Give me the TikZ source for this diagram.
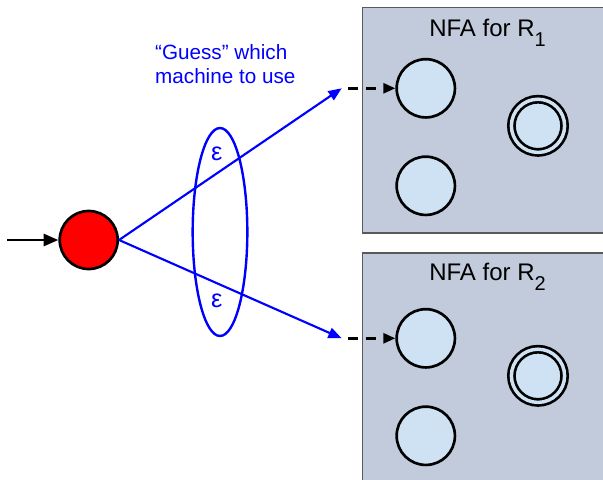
\documentclass[tikz,border=0pt]{standalone}
\usepackage{fontspec}
\setmainfont{Liberation Sans}
\usetikzlibrary{arrows.meta,positioning,shapes.geometric}
\definecolor{NfaPanel}{RGB}{193,203,219}
\definecolor{NfaState}{RGB}{207,226,243}
\definecolor{GuessBlue}{RGB}{0,0,255}
\newcommand{\lowsub}[1]{\raisebox{-7.5pt}{\fontsize{15}{15}\selectfont #1}}

\begin{document}
\begin{tikzpicture}[
    x=0.75pt, y=-0.75pt,
    panel/.style={draw=black!65, fill=NfaPanel, line width=0.9pt},
    state/.style={circle, draw, line width=2pt, fill=NfaState,
                  minimum size=43.7pt, inner sep=0pt},
    accept/.style={state, minimum size=39.9pt, double=NfaState,
                   double distance=2.6pt},
    start/.style={state, fill=red, minimum size=43.5pt},
    title/.style={font=\fontsize{18}{20}\selectfont, anchor=base west},
    guess/.style={text=GuessBlue, font=\fontsize{15.5}{18}\selectfont},
    eps/.style={text=GuessBlue, font=\fontsize{19}{20}\selectfont},
    arr/.style={-{Triangle[length=11pt, width=9pt]}, line width=2pt},
    blue arr/.style={line width=1.6pt, draw=GuessBlue,
                     -{Triangle[length=10pt, width=8pt]}},
    dash arr/.style={line width=2pt, dash pattern=on 7.5pt off 6pt,
                     -{Triangle[length=9pt, width=7.5pt]}}
]
    \useasboundingbox (0,0) rectangle (603,479);
    \clip (0,0) rectangle (603,479);

    % the two machines
    \draw[panel] (362.7,7.3) rectangle (620,233);
    \draw[panel] (362.7,253) rectangle (620,500);
    \node[title, inner sep=0pt] (lab1) at (429,36.7) {NFA for R\lowsub{1}};
    \node[title, inner sep=0pt] (lab2) at (429,280) {NFA for R\lowsub{2}};

    \node[state]  (a1) at (425.8,88.3) {};
    \node[state]  (b1) at (425.8,185.8) {};
    \node[accept] (f1) at (538,125.8) {};
    \node[state]  (a2) at (425.8,338.3) {};
    \node[state]  (b2) at (425.8,435.8) {};
    \node[accept] (f2) at (538,375.8) {};

    % new start state
    \node[start] (q0) at (88.7,240) {};
    \coordinate (in) at (7,240);
    \draw[arr] (in) -- (q0);

    \coordinate (tip1) at (341.7,88.3);
    \coordinate (tip2) at (341.7,338.3);
    \draw[blue arr] (q0.east) -- (tip1);
    \draw[blue arr] (q0.east) -- (tip2);

    \coordinate (d1) at (348,88.3);
    \coordinate (d2) at (348,338.3);
    \draw[dash arr] (d1) -- (a1);
    \draw[dash arr] (d2) -- (a2);

    % epsilon moves
    \node[draw=GuessBlue, line width=1.8pt, ellipse, minimum width=41pt,
          minimum height=156pt, inner sep=0pt] (epsring) at (220,232) {};
    \node[eps] (e1) at (216.7,153.5) {ε};
    \node[eps] (e2) at (216.7,300.5) {ε};

    \node[guess, anchor=base west, align=left] (hint) at (150.5,83)
        {“Guess” which\\machine to use};
\end{tikzpicture}
\end{document}
